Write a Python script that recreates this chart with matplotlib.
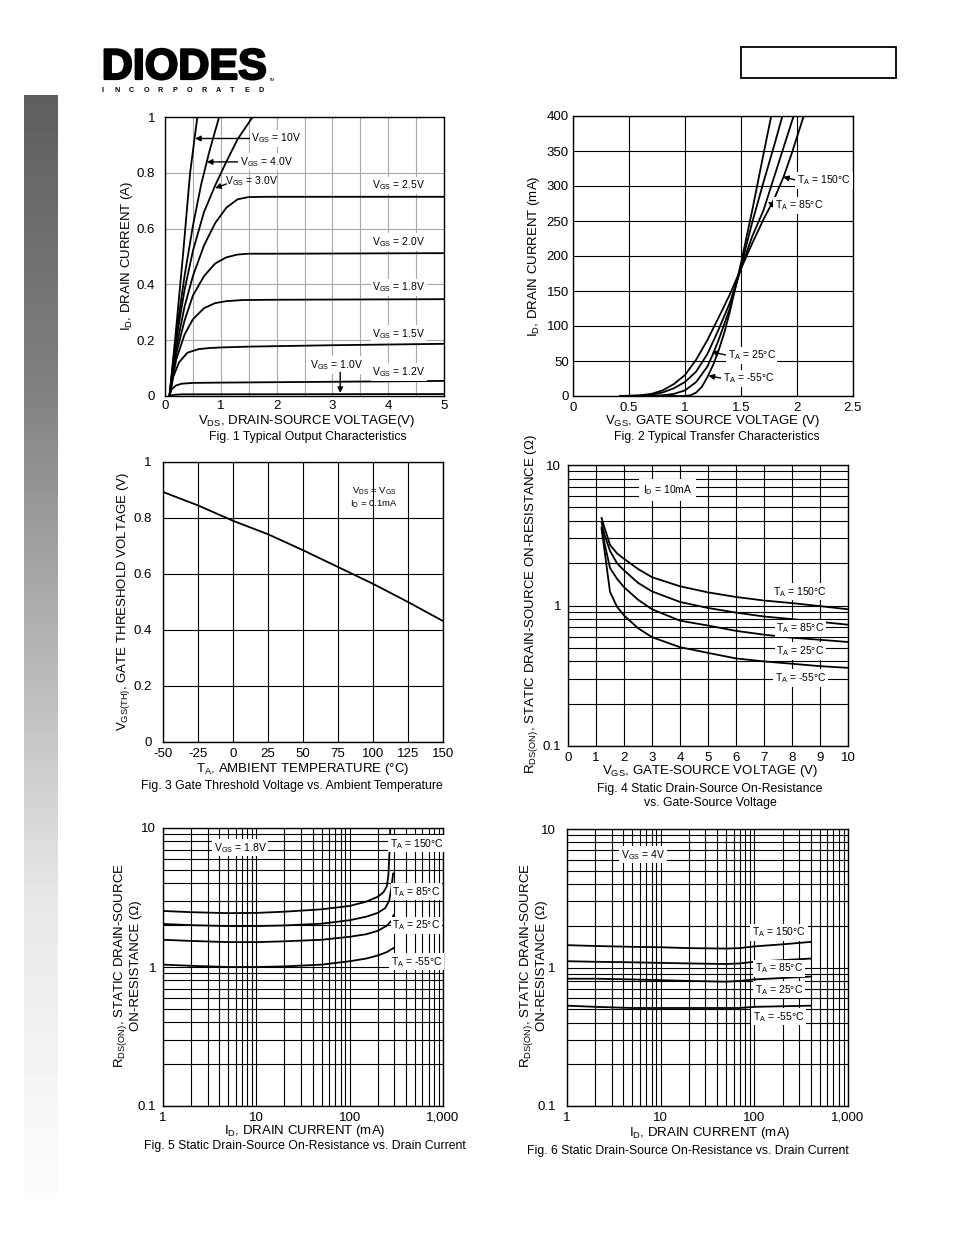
import numpy as np
import matplotlib
matplotlib.use("Agg")
import matplotlib.pyplot as plt
import matplotlib.patheffects as pe
from matplotlib.patches import Rectangle
from matplotlib.ticker import FixedLocator, LogLocator, NullFormatter, FixedFormatter

plt.rcParams["font.family"] = ["Liberation Sans", "DejaVu Sans"]
plt.rcParams["mathtext.fontset"] = "custom"
plt.rcParams["mathtext.rm"] = "Liberation Sans"
plt.rcParams["mathtext.it"] = "Liberation Sans:italic"
plt.rcParams["mathtext.bf"] = "Liberation Sans:bold"
plt.rcParams["mathtext.default"] = "regular"
plt.rcParams["axes.unicode_minus"] = False

# ---- Fig 1: output characteristics (VDS in V, ID in A)
vds_10 = [0.08, 0.18, 0.32, 0.45, 0.58]
id_10 = [0, 0.2, 0.5, 0.8, 1.0]
vds_40 = [0.08, 0.2, 0.35, 0.5, 0.65, 0.8, 0.97]
id_40 = [0, 0.22, 0.43, 0.61, 0.76, 0.88, 1.0]
vds_30 = [0.08, 0.2, 0.35, 0.5, 0.7, 0.9, 1.1, 1.3, 1.57]
id_30 = [0, 0.2, 0.38, 0.52, 0.66, 0.755, 0.84, 0.92, 1.0]
vds_25 = [0.08, 0.2, 0.35, 0.5, 0.7, 0.9, 1.1, 1.3, 1.5, 1.8, 2.5, 5]
id_25 = [0, 0.17, 0.32, 0.43, 0.54, 0.62, 0.675, 0.705, 0.713, 0.714, 0.714, 0.714]
vds_20 = [0.08, 0.2, 0.35, 0.5, 0.7, 0.9, 1.1, 1.3, 1.5, 2, 5]
id_20 = [0, 0.15, 0.27, 0.36, 0.43, 0.475, 0.497, 0.507, 0.51, 0.51, 0.512]
vds_18 = [0.08, 0.2, 0.35, 0.5, 0.7, 0.9, 1.1, 1.4, 2, 5]
id_18 = [0, 0.13, 0.22, 0.275, 0.315, 0.333, 0.34, 0.344, 0.345, 0.347]
vds_15 = [0.08, 0.15, 0.25, 0.4, 0.6, 0.8, 1.0, 1.5, 3, 5]
id_15 = [0, 0.07, 0.12, 0.155, 0.168, 0.172, 0.174, 0.177, 0.182, 0.187]
vds_12 = [0.08, 0.12, 0.2, 0.3, 0.5, 1, 3, 5]
id_12 = [0, 0.025, 0.038, 0.044, 0.047, 0.048, 0.051, 0.054]
vds_10v = [0.08, 0.15, 0.3, 5]
id_10v = [0, 0.004, 0.006, 0.007]

# ---- Fig 2: transfer characteristics (VGS in V, ID in mA)
vgs_m55 = [0.42, 1.0, 1.05, 1.1, 1.15, 1.2, 1.25, 1.3, 1.35, 1.4, 1.5, 1.6, 1.7, 1.77]
id_m55 = [0, 0, 1, 5, 13, 27, 44, 65, 90, 120, 190, 265, 345, 400]
vgs_25 = [0.42, 0.6, 0.8, 0.9, 1.0, 1.1, 1.2, 1.25, 1.3, 1.4, 1.5, 1.6, 1.7, 1.8, 1.87]
id_25c = [0, 0, 1, 3, 8, 20, 42, 60, 80, 125, 185, 248, 305, 360, 400]
vgs_85 = [0.42, 0.5, 0.6, 0.7, 0.8, 0.9, 1.0, 1.1, 1.2, 1.3, 1.4, 1.5, 1.6, 1.7, 1.8, 1.9, 1.97]
id_85c = [0, 0, 0.5, 2, 5, 11, 20, 35, 60, 95, 133, 182, 228, 265, 315, 365, 400]
vgs_150 = [0.42, 0.6, 0.7, 0.8, 0.9, 1.0, 1.1, 1.2, 1.3, 1.4, 1.5, 1.6, 1.7, 1.8, 1.88, 1.95, 2.06]
id_150c = [0, 1, 3, 8, 17, 30, 52, 80, 112, 145, 182, 218, 252, 283, 313, 345, 400]

# ---- Fig 3: threshold voltage vs temperature
temp_c = [-50, -25, 0, 25, 50, 75, 100, 125, 150]
vth = [0.893, 0.845, 0.79, 0.742, 0.685, 0.625, 0.565, 0.5, 0.432]

# ---- Fig 4: RDS(on) vs VGS at ID = 10mA
vgs4 = [1.2, 1.3, 1.5, 1.75, 2, 2.5, 3, 4, 5, 6, 7, 8, 9, 10]
r4_150 = [4.2, 3.6, 2.7, 2.35, 2.15, 1.82, 1.59, 1.37, 1.24, 1.15, 1.085, 1.04, 0.99, 0.94]
r4_85 = [3.9, 3.2, 2.45, 2.0, 1.78, 1.45, 1.26, 1.06, 0.96, 0.89, 0.835, 0.80, 0.765, 0.73]
r4_25 = [3.6, 2.8, 1.85, 1.55, 1.35, 1.1, 0.94, 0.78, 0.72, 0.66, 0.62, 0.59, 0.57, 0.55]
r4_m55 = [3.5, 2.5, 1.25, 0.98, 0.85, 0.69, 0.595, 0.505, 0.46, 0.42, 0.40, 0.385, 0.37, 0.36]

# ---- Fig 5: RDS(on) vs ID at VGS = 1.8V
id5_150 = [1, 2, 5, 10, 20, 50, 100, 150, 200, 230, 250, 260, 268, 272]
r5_150 = [2.53, 2.48, 2.44, 2.45, 2.5, 2.6, 2.75, 2.95, 3.2, 3.45, 3.8, 4.6, 7.0, 10.0]
id5_85 = [1, 2, 5, 10, 20, 50, 100, 150, 200, 240, 265, 280, 292]
r5_85 = [2.04, 2.0, 1.97, 1.97, 1.99, 2.05, 2.17, 2.3, 2.45, 2.65, 3.0, 3.7, 4.7]
id5_25 = [1, 2, 5, 10, 20, 50, 100, 150, 200, 250, 280, 295]
r5_25 = [1.57, 1.54, 1.51, 1.51, 1.53, 1.57, 1.65, 1.72, 1.82, 1.98, 2.15, 2.36]
id5_m55 = [1, 2, 5, 10, 20, 50, 100, 150, 200, 250, 295]
r5_m55 = [1.04, 1.02, 1.0, 1.0, 1.01, 1.04, 1.1, 1.15, 1.21, 1.28, 1.37]

# ---- Fig 6: RDS(on) vs ID at VGS = 4V
id6 = [1, 2, 5, 10, 20, 50, 70, 100, 200, 400]
r6_150 = [1.45, 1.43, 1.41, 1.40, 1.38, 1.37, 1.38, 1.42, 1.47, 1.53]
r6_85 = [1.11, 1.10, 1.09, 1.08, 1.07, 1.06, 1.07, 1.10, 1.13, 1.16]
r6_25 = [0.83, 0.83, 0.82, 0.81, 0.80, 0.79, 0.80, 0.82, 0.84, 0.86]
r6_m55 = [0.53, 0.52, 0.51, 0.51, 0.51, 0.51, 0.51, 0.52, 0.525, 0.53]

W, H = 954, 1235
fig = plt.figure(figsize=(W / 100, H / 100), dpi=100)


def box(l, t, r, b):
    return fig.add_axes([l / W, 1 - b / H, (r - l) / W, (b - t) / H])


def ftext(x, y, s, **kw):
    kw.setdefault("ha", "center")
    kw.setdefault("va", "center")
    return fig.text(x / W, 1 - y / H, s, **kw)


def style(ax, pad_x=3, pad_y=5, grid_color="k"):
    for s in ax.spines.values():
        s.set_linewidth(1.0)
        s.set_color("k")
    ax.tick_params(which="both", length=0, labelsize=9.5)
    ax.tick_params(axis="x", pad=pad_x)
    ax.tick_params(axis="y", pad=pad_y)
    ax.grid(True, which="both", color=grid_color, lw=0.8)
    ax.set_axisbelow(True)


LW = 1.3
wbox = dict(fc="white", ec="none", pad=1.2)
arrow = dict(arrowstyle="-|>", color="k", lw=1.0, mutation_scale=8, shrinkA=0, shrinkB=0)

# side gradient bar
gax = box(24, 95, 58, 1200)
gpos = np.linspace(0, 1, 300)
gval = np.interp(gpos, [0, 0.26, 0.55, 0.73, 1.0], [0.37, 0.50, 0.75, 0.91, 0.99])
gax.imshow(gval[:, None], aspect="auto", cmap="gray", vmin=0, vmax=1)
gax.axis("off")

# header
logo = ftext(184, 68, "DIODES", fontsize=31, fontweight="bold", color="k")
logo.set_path_effects([pe.withStroke(linewidth=1.6, foreground="k")])
fig.add_artist(plt.Line2D([100 / W, 268 / W], [1 - 67 / H, 1 - 67 / H], color="white", lw=1.2))
for i, ch in enumerate("INCORPORATED"):
    ftext(103 + i * 14.4, 91, ch, fontsize=5.2, fontweight="bold")
ftext(272, 80, "TM", fontsize=3)
fig.add_artist(Rectangle((741 / W, 1 - 78 / H), 155 / W, 31 / H, fill=False, ec="k", lw=1.3,
                         transform=fig.transFigure))

# ---------- Fig 1
ax1 = box(165, 117, 444, 396)
style(ax1, pad_x=3, pad_y=7, grid_color="#a8a8a8")
for xs, ys in [(vds_10, id_10), (vds_40, id_40), (vds_30, id_30), (vds_25, id_25), (vds_20, id_20),
               (vds_18, id_18), (vds_15, id_15), (vds_12, id_12), (vds_10v, id_10v)]:
    ax1.plot(xs, ys, color="k", lw=LW)
ax1.set_xlim(0, 5)
ax1.set_ylim(0, 1)
ax1.xaxis.set_major_locator(FixedLocator([0, 1, 2, 3, 4, 5]))
ax1.xaxis.set_minor_locator(FixedLocator([0.5, 1.5, 2.5, 3.5, 4.5]))
ax1.xaxis.set_minor_formatter(NullFormatter())
ax1.yaxis.set_major_locator(FixedLocator([0, 0.2, 0.4, 0.6, 0.8, 1]))
ax1.yaxis.set_major_formatter(FixedFormatter(["0", "0.2", "0.4", "0.6", "0.8", "1"]))
ax1.xaxis.set_major_formatter(FixedFormatter(["0", "1", "2", "3", "4", "5"]))
ax1.annotate("", xy=(0.54, 0.923), xytext=(1.52, 0.923), arrowprops=arrow)
ax1.text(1.55, 0.923, "V$_{GS}$ = 10V", fontsize=7.5, va="center", bbox=wbox)
ax1.annotate("", xy=(0.75, 0.839), xytext=(1.31, 0.839), arrowprops=arrow)
ax1.text(1.34, 0.839, "V$_{GS}$ = 4.0V", fontsize=7.5, va="center", bbox=wbox)
ax1.annotate("", xy=(0.9, 0.745), xytext=(1.1, 0.76), arrowprops=arrow)
ax1.text(1.07, 0.77, "V$_{GS}$ = 3.0V", fontsize=7.5, va="center")
for yy, lab in [(0.756, "2.5V"), (0.552, "2.0V"), (0.39, "1.8V"), (0.222, "1.5V"), (0.086, "1.2V")]:
    ax1.text(4.19, yy, "V$_{GS}$ = " + lab, fontsize=7.5, ha="center", va="center", bbox=wbox)
ax1.text(3.07, 0.111, "V$_{GS}$ = 1.0V", fontsize=7.5, ha="center", va="center", bbox=wbox)
ax1.annotate("", xy=(3.14, 0.011), xytext=(3.14, 0.085), arrowprops=arrow)
ftext(306, 421, "V$_{DS}$, DRAIN-SOURCE VOLTAGE(V)", fontsize=9.5)
ftext(308, 437, "Fig. 1 Typical Output Characteristics", fontsize=8.8)
ftext(127, 256, "I$_D$, DRAIN CURRENT (A)", fontsize=9.5, rotation=90)

# ---------- Fig 2
ax2 = box(573, 116, 853, 396)
style(ax2, pad_x=4, pad_y=3)
for xs, ys in [(vgs_m55, id_m55), (vgs_25, id_25c), (vgs_85, id_85c), (vgs_150, id_150c)]:
    ax2.plot(xs, ys, color="k", lw=LW)
ax2.set_xlim(0, 2.5)
ax2.set_ylim(0, 400)
ax2.xaxis.set_major_locator(FixedLocator([0, 0.5, 1, 1.5, 2, 2.5]))
ax2.xaxis.set_major_formatter(FixedFormatter(["0", "0.5", "1", "1.5", "2", "2.5"]))
ax2.yaxis.set_major_locator(FixedLocator(list(range(0, 401, 50))))
ax2.annotate("", xy=(1.875, 313), xytext=(2.0, 308), arrowprops=arrow)
ax2.text(2.0, 308, "T$_A$ = 150°C", fontsize=7.5, va="center", bbox=wbox)
ax2.annotate("", xy=(1.74, 277), xytext=(1.8, 272), arrowprops=arrow)
ax2.text(1.8, 272, "T$_A$ = 85°C", fontsize=7.5, va="center", bbox=wbox)
ax2.annotate("", xy=(1.24, 63), xytext=(1.38, 58), arrowprops=arrow)
ax2.text(1.38, 58, "T$_A$ = 25°C", fontsize=7.5, va="center", bbox=wbox)
ax2.annotate("", xy=(1.21, 29), xytext=(1.34, 25), arrowprops=arrow)
ax2.text(1.34, 25, "T$_A$ = -55°C", fontsize=7.5, va="center", bbox=wbox)
ftext(713, 421, "V$_{GS}$, GATE SOURCE VOLTAGE (V)", fontsize=9.5)
ftext(717, 437, "Fig. 2 Typical Transfer Characteristics", fontsize=8.8)
ftext(534, 256, "I$_D$, DRAIN CURRENT (mA)", fontsize=9.5, rotation=90)

# ---------- Fig 3
ax3 = box(163, 462, 443, 742)
style(ax3, pad_x=4, pad_y=8)
ax3.plot(temp_c, vth, color="k", lw=LW)
ax3.set_xlim(-50, 150)
ax3.set_ylim(0, 1)
ax3.xaxis.set_major_locator(FixedLocator(list(range(-50, 151, 25))))
ax3.yaxis.set_major_locator(FixedLocator([0, 0.2, 0.4, 0.6, 0.8, 1]))
ax3.yaxis.set_major_formatter(FixedFormatter(["0", "0.2", "0.4", "0.6", "0.8", "1"]))
ax3.text(101, 0.896, "V$_{DS}$ = V$_{GS}$", fontsize=6.8, ha="center", va="center")
ax3.text(101, 0.852, "I$_D$ = 0.1mA", fontsize=6.8, ha="center", va="center")
ftext(303, 769, "T$_A$, AMBIENT TEMPERATURE (°C)", fontsize=9.5)
ftext(292, 786, "Fig. 3 Gate Threshold Voltage vs. Ambient Temperature", fontsize=8.8)
ftext(124, 602, "V$_{GS(TH)}$, GATE THRESHOLD VOLTAGE (V)", fontsize=9.5, rotation=90)

# ---------- Fig 4
ax4 = box(568, 465, 848, 746)
ax4.set_yscale("log")
style(ax4, pad_x=4, pad_y=5)
for ys in [r4_150, r4_85, r4_25, r4_m55]:
    ax4.plot(vgs4, ys, color="k", lw=LW)
ax4.set_xlim(0, 10)
ax4.set_ylim(0.1, 10)
ax4.xaxis.set_major_locator(FixedLocator(list(range(0, 11))))
ax4.yaxis.set_major_locator(FixedLocator([0.1, 1, 10]))
ax4.yaxis.set_major_formatter(FixedFormatter(["0.1", "1", "10"]))
ax4.yaxis.set_minor_locator(LogLocator(base=10, subs=np.arange(2, 10)))
ax4.yaxis.set_minor_formatter(NullFormatter())
ax4.text(3.55, 6.64, "I$_D$ = 10mA", fontsize=7.5, ha="center", va="center",
         bbox=dict(fc="white", ec="none", pad=3))
for yy, lab in [(1.25, "150°C"), (0.69, "85°C"), (0.474, "25°C"), (0.305, "-55°C")]:
    ax4.text(8.3, yy, "T$_A$ = " + lab, fontsize=7.5, ha="center", va="center", bbox=wbox)
ftext(710, 771, "V$_{GS}$, GATE-SOURCE VOLTAGE (V)", fontsize=9.5)
ftext(710, 789, "Fig. 4 Static Drain-Source On-Resistance", fontsize=8.8)
ftext(710, 803, "vs. Gate-Source Voltage", fontsize=8.8)
ftext(532, 604, "R$_{DS(ON)}$, STATIC DRAIN-SOURCE ON-RESISTANCE (Ω)", fontsize=9.5, rotation=90)


def loglog_style(ax):
    ax.set_xscale("log")
    ax.set_yscale("log")
    ax.set_xlim(1, 1000)
    ax.set_ylim(0.1, 10)
    ax.xaxis.set_major_locator(FixedLocator([1, 10, 100, 1000]))
    ax.xaxis.set_major_formatter(FixedFormatter(["1", "10", "100", "1,000"]))
    ax.yaxis.set_major_locator(FixedLocator([0.1, 1, 10]))
    ax.yaxis.set_major_formatter(FixedFormatter(["0.1", "1", "10"]))
    ax.xaxis.set_minor_locator(LogLocator(base=10, subs=np.arange(2, 10)))
    ax.yaxis.set_minor_locator(LogLocator(base=10, subs=np.arange(2, 10)))
    ax.xaxis.set_minor_formatter(NullFormatter())
    ax.yaxis.set_minor_formatter(NullFormatter())


# ---------- Fig 5
ax5 = box(163, 828, 443, 1106)
loglog_style(ax5)
style(ax5, pad_x=4, pad_y=5)
for xs, ys in [(id5_150, r5_150), (id5_85, r5_85), (id5_25, r5_25), (id5_m55, r5_m55)]:
    ax5.plot(xs, ys, color="k", lw=LW)
ax5.text(6.7, 7.2, "V$_{GS}$ = 1.8V", fontsize=7.5, ha="center", va="center", bbox=wbox)
for yy, lab in [(7.7, "150°C"), (3.47, "85°C"), (2.0, "25°C"), (1.09, "-55°C")]:
    ax5.text(520, yy, "T$_A$ = " + lab, fontsize=7.5, ha="center", va="center", bbox=wbox)
ftext(305, 1131, "I$_D$, DRAIN CURRENT (mA)", fontsize=9.5)
ftext(305, 1146, "Fig. 5 Static Drain-Source On-Resistance vs. Drain Current", fontsize=8.8)
ftext(127, 966, "R$_{DS(ON)}$, STATIC DRAIN-SOURCE\nON-RESISTANCE (Ω)", fontsize=9.5,
      rotation=90, linespacing=1.1)

# ---------- Fig 6
ax6 = box(567, 829, 848, 1106)
loglog_style(ax6)
style(ax6, pad_x=4, pad_y=8)
for ys in [r6_150, r6_85, r6_25, r6_m55]:
    ax6.plot(id6, ys, color="k", lw=LW)
ax6.text(6.5, 6.5, "V$_{GS}$ = 4V", fontsize=7.5, ha="center", va="center", bbox=wbox)
for yy, lab in [(1.8, "150°C"), (0.99, "85°C"), (0.69, "25°C"), (0.44, "-55°C")]:
    ax6.text(183, yy, "T$_A$ = " + lab, fontsize=7.5, ha="center", va="center", bbox=wbox)
ftext(710, 1133, "I$_D$, DRAIN CURRENT (mA)", fontsize=9.5)
ftext(688, 1151, "Fig. 6 Static Drain-Source On-Resistance vs. Drain Current", fontsize=8.8)
ftext(533, 966, "R$_{DS(ON)}$, STATIC DRAIN-SOURCE\nON-RESISTANCE (Ω)", fontsize=9.5,
      rotation=90, linespacing=1.1)

fig.savefig("out.png", dpi=100)
